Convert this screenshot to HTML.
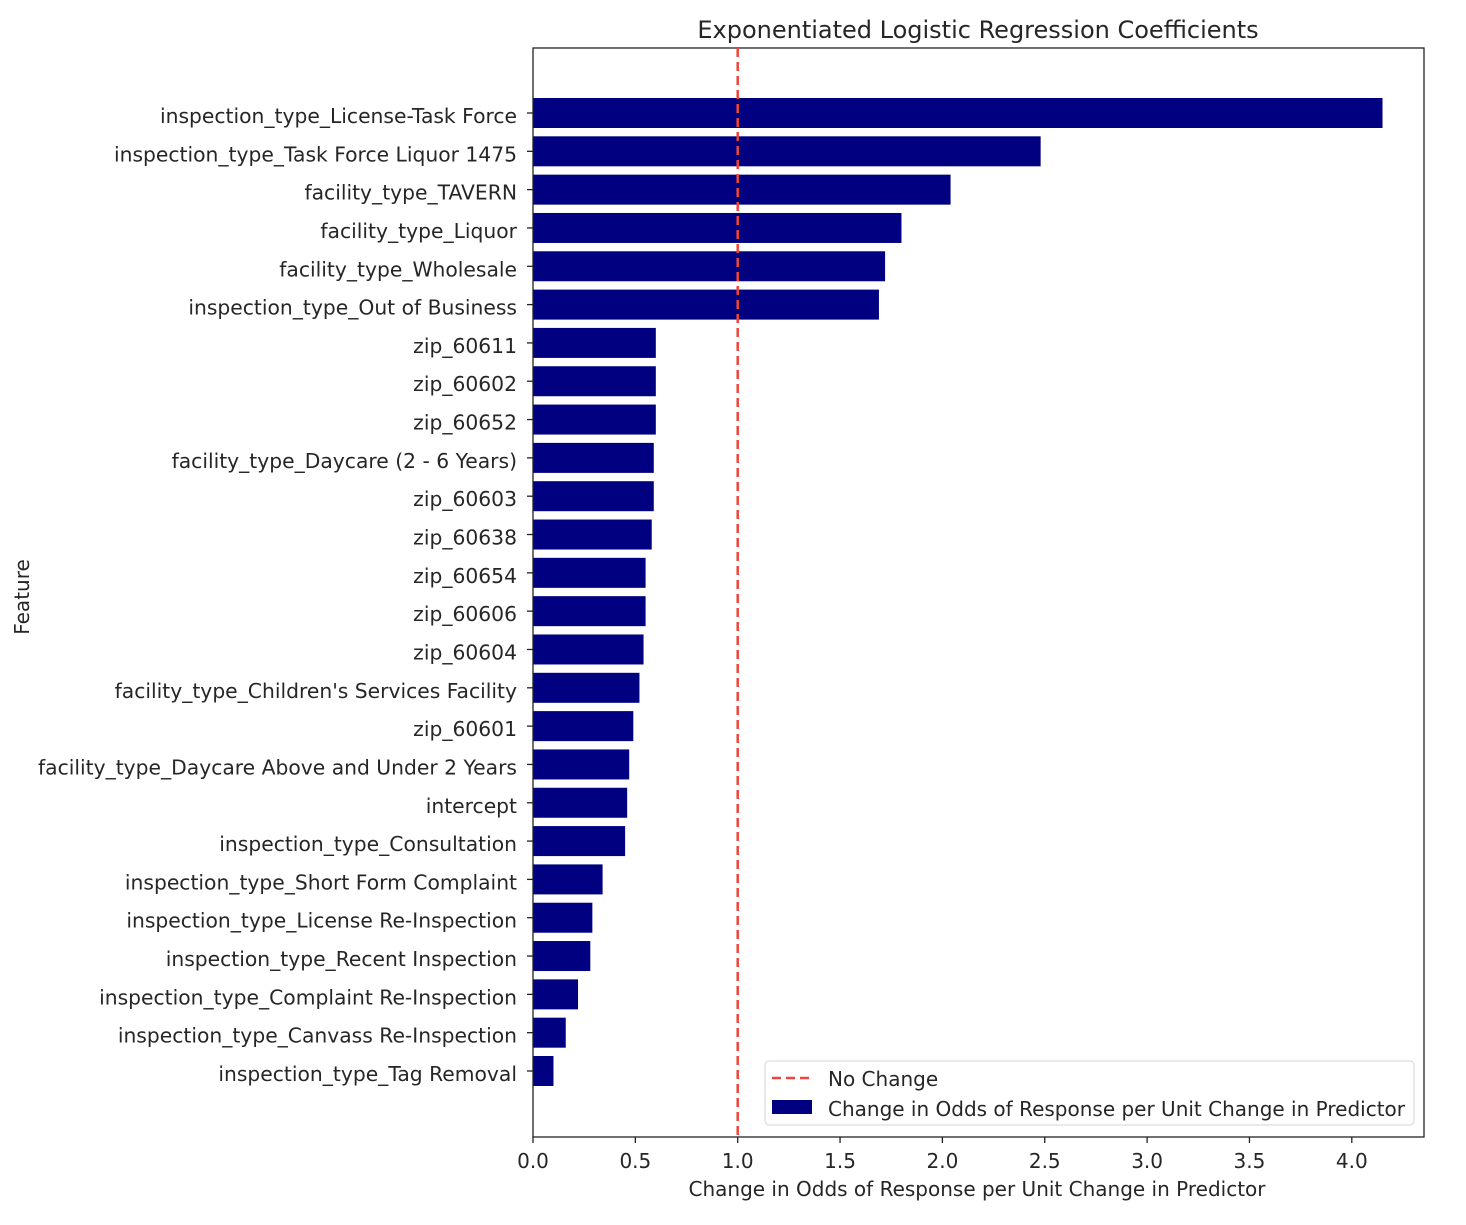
<!DOCTYPE html>
<html><head><meta charset="utf-8"><style>
body{margin:0;background:#fff;}
svg text{font-family:"DejaVu Sans","Liberation Sans",sans-serif;fill:#262626;}
</style></head><body>
<svg id="chart" width="1466" height="1220" xmlns="http://www.w3.org/2000/svg">
<text x="978" y="38" font-size="24" text-anchor="middle">Exponentiated Logistic Regression Coefficients</text>
<g id="bars"></g>
<g id="yticks"></g>
<g id="xticks"></g>
<rect x="533" y="48" width="891" height="1089" fill="none" stroke="#222" stroke-width="1.3"/>
<line id="refline" y1="48" y2="1137" stroke="#f0453a" stroke-width="2.5" stroke-dasharray="9,5"/>
<text x="977" y="1196" font-size="20" text-anchor="middle">Change in Odds of Response per Unit Change in Predictor</text>
<text x="0" y="0" font-size="20" text-anchor="middle" transform="translate(29,597) rotate(-90)">Feature</text>
<g>
<rect x="765" y="1061" width="649" height="64" rx="4" fill="#fff" stroke="#ddd" stroke-width="1.3"/>
<line x1="772" x2="812" y1="1078" y2="1078" stroke="#f0453a" stroke-width="2.5" stroke-dasharray="9,5"/>
<text x="828" y="1086" font-size="20">No Change</text>
<rect x="772" y="1100" width="40" height="14" fill="#000080"/>
<text x="828" y="1116" font-size="20">Change in Odds of Response per Unit Change in Predictor</text>
</g>
</svg>
<script>
const categories=["inspection_type_License-Task Force","inspection_type_Task Force Liquor 1475","facility_type_TAVERN","facility_type_Liquor","facility_type_Wholesale","inspection_type_Out of Business","zip_60611","zip_60602","zip_60652","facility_type_Daycare (2 - 6 Years)","zip_60603","zip_60638","zip_60654","zip_60606","zip_60604","facility_type_Children's Services Facility","zip_60601","facility_type_Daycare Above and Under 2 Years","intercept","inspection_type_Consultation","inspection_type_Short Form Complaint","inspection_type_License Re-Inspection","inspection_type_Recent Inspection","inspection_type_Complaint Re-Inspection","inspection_type_Canvass Re-Inspection","inspection_type_Tag Removal"];
const values=[4.15,2.48,2.04,1.80,1.72,1.69,0.60,0.60,0.60,0.59,0.59,0.58,0.55,0.55,0.54,0.52,0.49,0.47,0.46,0.45,0.34,0.29,0.28,0.22,0.16,0.10];
const xTicks=[0,0.5,1,1.5,2,2.5,3,3.5,4];
const xTickLabels=["0.0","0.5","1.0","1.5","2.0","2.5","3.0","3.5","4.0"];
const refValue=1;
const NS="http://www.w3.org/2000/svg";
const x=v=>533+v*204.7;
const y=i=>113+i*38.32;
const bh=30;
function mk(t,a){const e=document.createElementNS(NS,t);for(const k in a)e.setAttribute(k,a[k]);return e;}
const gb=document.getElementById('bars'),gy=document.getElementById('yticks'),gx=document.getElementById('xticks');
categories.forEach((c,i)=>{
  const r=mk('rect',{x:x(0),y:y(i)-bh/2,width:x(values[i])-x(0),height:bh,fill:'#000080'});
  
  
  gb.appendChild(r);
  const tk=mk('line',{x1:527,x2:533,y1:y(i),y2:y(i),stroke:'#222','stroke-width':1.3});
  
  
  gy.appendChild(tk);
  const t=mk('text',{x:517,y:y(i)+10,'font-size':20.3,'text-anchor':'end'});
  t.textContent=c;
  
  
  gy.appendChild(t);
});
xTicks.forEach((v,i)=>{
  const tk=mk('line',{x1:x(v),x2:x(v),y1:1137,y2:1143,stroke:'#222','stroke-width':1.3});
  
  
  gx.appendChild(tk);
  const t=mk('text',{x:x(v),y:1168,'font-size':20,'text-anchor':'middle'});
  t.textContent=xTickLabels[i];
  
  
  gx.appendChild(t);
});
const rl=document.getElementById('refline');
rl.setAttribute('x1',x(refValue));rl.setAttribute('x2',x(refValue));
</script>
</body></html>
